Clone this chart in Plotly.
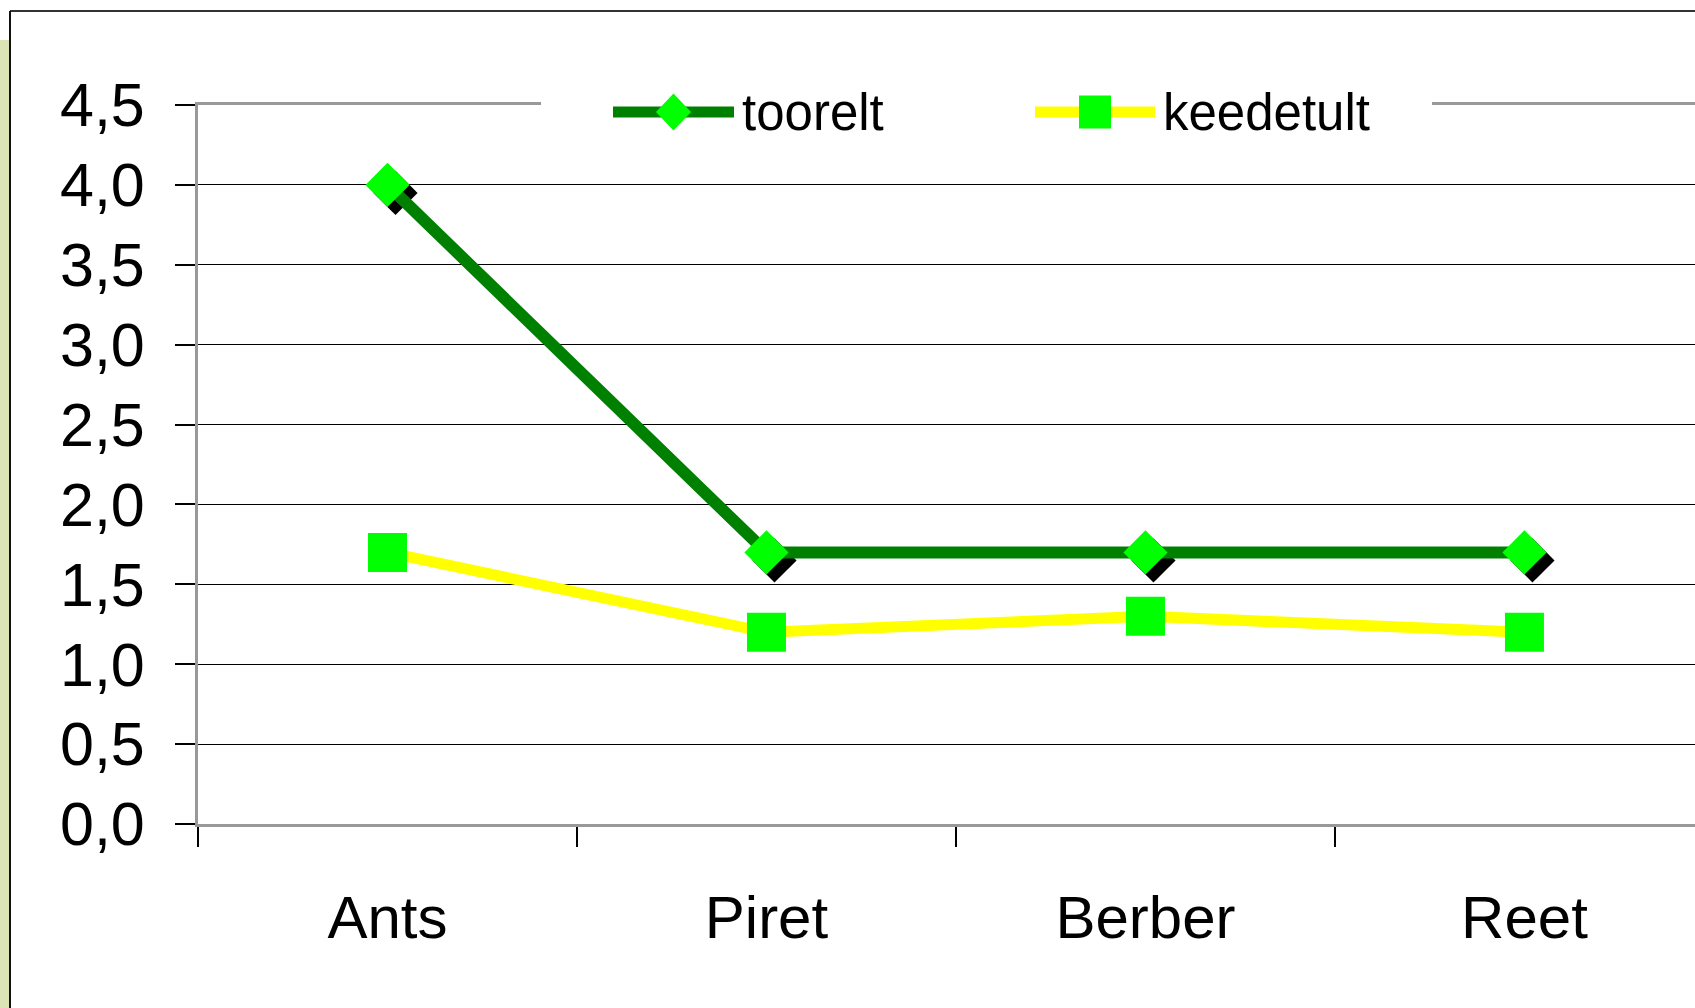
import plotly.graph_objects as go

# data
names = ["Ants", "Piret", "Berber", "Reet"]
toorelt = [4.0, 1.7, 1.7, 1.7]
keedetult = [1.7, 1.2, 1.3, 1.2]
y_ticks = [0.0, 0.5, 1.0, 1.5, 2.0, 2.5, 3.0, 3.5, 4.0, 4.5]

W, H = 1695, 1008
M_L, M_R, M_T, M_B = 198, 0, 105, 184
PW, PH = W - M_L - M_R, H - M_T - M_B

X_RANGE = [-0.5, 3.45]
Y_RANGE = [0, 4.5]
FONT = "Liberation Sans, Arial, sans-serif"

GREEN, LIME, YELLOW = "#008000", "#00FF00", "#FFFF00"

# shadow offset (px) converted to axis units
SH = 8
dx = SH * (X_RANGE[1] - X_RANGE[0]) / PW
dy = SH * (Y_RANGE[1] - Y_RANGE[0]) / PH


def px_x(p):
    return (p - M_L) / PW


def px_y(p):
    return (H - M_B - p) / PH


fig = go.Figure()

fig.add_trace(go.Scatter(
    x=names, y=keedetult,
    mode="lines+markers",
    name="keedetult",
    showlegend=False,
    line=dict(color=YELLOW, width=11),
    marker=dict(symbol="square", size=39, color=LIME),
))

# black drop shadow under the diamonds
fig.add_trace(go.Scatter(
    x=names, y=toorelt,
    mode="markers",
    showlegend=False,
    hoverinfo="skip",
    marker=dict(symbol="diamond", size=34, color="#000000"),
    xaxis="x2", yaxis="y2",
))

fig.add_trace(go.Scatter(
    x=names, y=toorelt,
    mode="lines+markers",
    name="toorelt",
    showlegend=False,
    line=dict(color=GREEN, width=12),
    marker=dict(symbol="diamond", size=34, color=LIME),
    xaxis="x3", yaxis="y3",
))

hidden_x = dict(type="category", categoryarray=names, overlaying="x", visible=False)
hidden_y = dict(overlaying="y", visible=False)

fig.update_layout(
    width=W, height=H,
    margin=dict(l=M_L, r=M_R, t=M_T, b=M_B),
    paper_bgcolor="white",
    plot_bgcolor="white",
    separators=", ",
    font=dict(family=FONT, color="black"),
    showlegend=False,
    xaxis=dict(
        type="category", categoryarray=names,
        range=X_RANGE,
        showgrid=False,
        showline=True, linecolor="#999999", linewidth=3, mirror=True,
        ticks="outside", tickson="boundaries", ticklen=20,
        tickcolor="black", tickwidth=1.5,
        tickfont=dict(size=60),
        ticklabelstandoff=39,
    ),
    yaxis=dict(
        range=Y_RANGE,
        tickvals=y_ticks, tickformat=".1f",
        showgrid=True, gridcolor="black", gridwidth=1,
        zeroline=False,
        showline=True, linecolor="#999999", linewidth=3,
        ticks="outside", ticklen=20, tickcolor="black", tickwidth=1.5,
        tickfont=dict(size=61),
        ticklabelstandoff=18,
    ),
    xaxis2=dict(hidden_x, range=[X_RANGE[0] - dx, X_RANGE[1] - dx]),
    yaxis2=dict(hidden_y, range=[Y_RANGE[0] + dy, Y_RANGE[1] + dy]),
    xaxis3=dict(hidden_x, range=X_RANGE),
    yaxis3=dict(hidden_y, range=Y_RANGE),
)

# slide frame and textured strip on the left
fig.add_shape(type="rect", xref="paper", yref="paper",
              x0=px_x(0), x1=px_x(9), y0=px_y(H), y1=px_y(40),
              fillcolor="#dce4b6", line=dict(width=0), layer="below")
fig.add_shape(type="line", xref="paper", yref="paper",
              x0=px_x(10), x1=px_x(W), y0=px_y(11), y1=px_y(11),
              line=dict(color="#333333", width=2))
fig.add_shape(type="line", xref="paper", yref="paper",
              x0=px_x(10), x1=px_x(10), y0=px_y(11), y1=px_y(H),
              line=dict(color="#111111", width=2))

# legend box sitting on the top border (white background breaks the line)
fig.add_shape(type="rect", xref="paper", yref="paper",
              x0=px_x(541), x1=px_x(1432), y0=px_y(120), y1=px_y(90),
              fillcolor="white", line=dict(width=0), layer="above")

LEG_Y = 112
legend_items = [
    # name, line colour, marker, swatch left, swatch right
    ("toorelt", GREEN, "diamond", 613, 734),
    ("keedetult", YELLOW, "square", 1035, 1155),
]
for label, lcol, sym, sx0, sx1 in legend_items:
    fig.add_shape(type="line", xref="paper", yref="paper",
                  x0=px_x(sx0), x1=px_x(sx1), y0=px_y(LEG_Y), y1=px_y(LEG_Y),
                  line=dict(color=lcol, width=11), layer="above")
    cx = (sx0 + sx1) / 2
    if sym == "diamond":
        hw, hh = 17.5, 18.5
        path = (f"M {px_x(cx - hw)} {px_y(LEG_Y)} L {px_x(cx)} {px_y(LEG_Y - hh)} "
                f"L {px_x(cx + hw)} {px_y(LEG_Y)} L {px_x(cx)} {px_y(LEG_Y + hh)} Z")
        fig.add_shape(type="path", xref="paper", yref="paper", path=path,
                      fillcolor=LIME, line=dict(width=0), layer="above")
    else:
        fig.add_shape(type="rect", xref="paper", yref="paper",
                      x0=px_x(cx - 16), x1=px_x(cx + 16),
                      y0=px_y(LEG_Y + 16.5), y1=px_y(LEG_Y - 16.5),
                      fillcolor=LIME, line=dict(width=0), layer="above")
    fig.add_annotation(xref="paper", yref="paper",
                       x=px_x(sx1 + 6), y=px_y(LEG_Y),
                       xanchor="left", yanchor="middle",
                       text=label, showarrow=False,
                       font=dict(size=51, color="black"))

fig.write_html("out.html", config={"displayModeBar": False},
               post_script="document.body.style.margin='0';")
